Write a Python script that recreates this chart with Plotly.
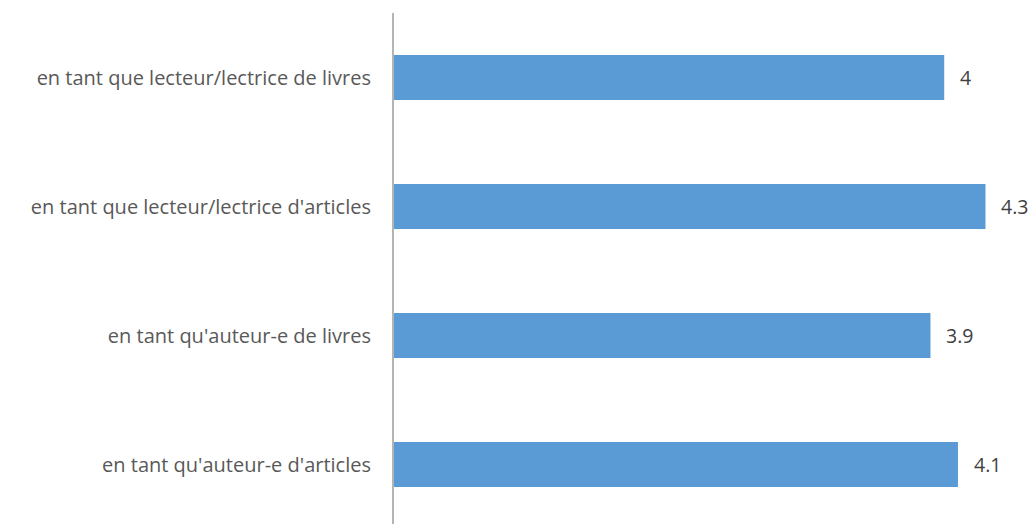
import plotly.graph_objects as go

# Categories listed top to bottom, with their mean scores
categories = [
    "en tant que lecteur/lectrice de livres",
    "en tant que lecteur/lectrice d'articles",
    "en tant qu'auteur-e de livres",
    "en tant qu'auteur-e d'articles",
]
scores = [4.0, 4.3, 3.9, 4.1]
score_labels = ["4", "4.3", "3.9", "4.1"]

BAR_COLOR = "#5B9BD5"
TEXT_COLOR = "#595959"
FONT = "Open Sans"

fig = go.Figure(
    go.Bar(
        x=scores,
        y=categories,
        orientation="h",
        marker=dict(color=BAR_COLOR, line=dict(width=0)),
        hoverinfo="skip",
    )
)

# Value labels just past the end of each bar
for cat, val, lab in zip(categories, scores, score_labels):
    fig.add_annotation(
        x=val, y=cat, text=lab, showarrow=False,
        xanchor="left", xshift=14,
        font=dict(family=FONT, size=19.5, color="#404040"),
    )

fig.update_layout(
    width=1035,
    height=524,
    margin=dict(l=394, r=22, t=13, b=0),
    paper_bgcolor="white",
    plot_bgcolor="white",
    bargap=0.65,
    showlegend=False,
    font=dict(family=FONT, size=20, color=TEXT_COLOR),
)
fig.update_xaxes(
    range=[0, 4.5],
    showgrid=False, zeroline=False, showline=False, showticklabels=False,
)
fig.update_yaxes(
    type="category",
    categoryorder="array",
    categoryarray=categories,
    range=[3.461, -0.5],
    showgrid=False,
    showline=True, linecolor="#b4b4b4", linewidth=2,
    ticks="", ticklabelstandoff=17,
    tickfont=dict(family=FONT, size=20, color=TEXT_COLOR),
)

fig.write_html("out.html")
